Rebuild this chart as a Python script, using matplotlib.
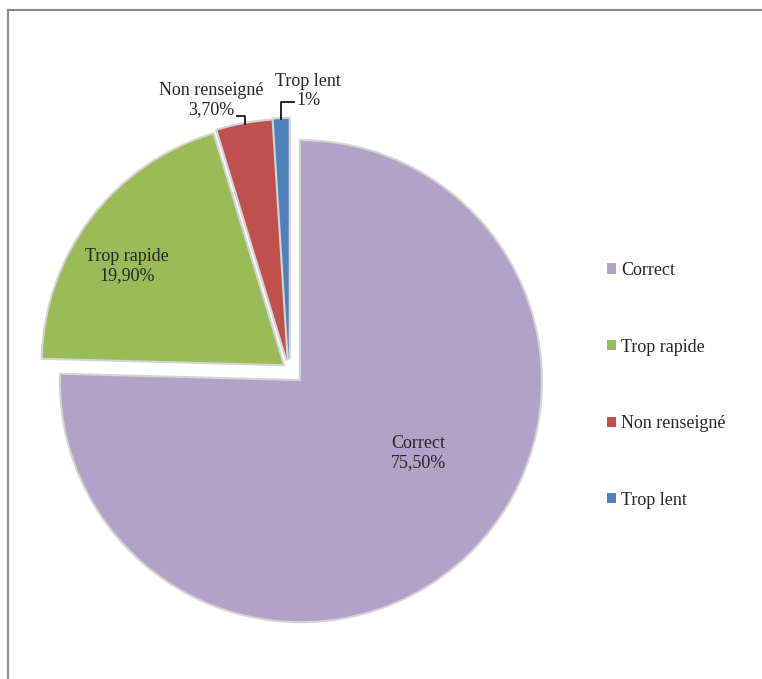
import numpy as np
import matplotlib
matplotlib.use("Agg")
import matplotlib.pyplot as plt
import matplotlib.patheffects as pe
from matplotlib.patches import Patch
from matplotlib.lines import Line2D

# données
categories = ['Correct', 'Trop rapide', 'Non renseigné', 'Trop lent']
values = [75.5, 19.9, 3.7, 1.0]
value_labels = ['75,50%', '19,90%', '3,70%', '1%']
colors = ['#B3A2C7', '#9BBB59', '#C0504D', '#4F81BD']
explode = [17, 8, 9, 10]  # décalage en pixels (unités des axes)

plt.rcParams['font.family'] = ['Liberation Serif', 'DejaVu Serif']
TXT = '#262626'

W, H = 762, 679
fig = plt.figure(figsize=(W / 100, H / 100), dpi=100)
ax = fig.add_axes([0, 0, 1, 1])

R = 240
wedges, _ = ax.pie(values, colors=colors, explode=explode, startangle=90,
                   counterclock=False, center=(289, H - 369), radius=R,
                   wedgeprops=dict(edgecolor='none'))
for w in wedges:
    w.set_path_effects([pe.withStroke(linewidth=3, foreground='#d4d4d4')])

# axes in pixel units (y up)
ax.set_xlim(0, W)
ax.set_ylim(0, H)
ax.set_aspect('equal')
ax.axis('off')

# étiquettes internes
ax.text(418, H - 453, f'{categories[0]}\n{value_labels[0]}', ha='center', va='center',
        fontsize=13, color=TXT, linespacing=1.1)
ax.text(127, H - 266, f'{categories[1]}\n{value_labels[1]}', ha='center', va='center',
        fontsize=13, color=TXT, linespacing=1.1)


def arc_mid(w):
    mid = np.deg2rad((w.theta1 + w.theta2) / 2)
    cx, cy = w.center
    return cx + w.r * np.cos(mid), cy + w.r * np.sin(mid)


# étiquettes externes avec lignes de rappel
ax.text(211, H - 100, f'{categories[2]}\n{value_labels[2]}', ha='center', va='center',
        fontsize=13, color=TXT, linespacing=1.1)
px, py = arc_mid(wedges[2])
ax.plot([px, px, 237], [py, H - 116, H - 116], color='black', lw=1.2)

ax.text(308, H - 91, f'{categories[3]}\n{value_labels[3]}', ha='center', va='center',
        fontsize=13, color=TXT, linespacing=1.1)
px, py = arc_mid(wedges[3])
ax.plot([px, px, 294], [py, H - 102, H - 102], color='black', lw=1.2)

# légende
handles = [Patch(facecolor=c) for c in colors]
leg = ax.legend(handles, categories, loc='upper left',
                bbox_to_anchor=(607 / W, 1 - 262 / H), frameon=False, fontsize=13,
                labelspacing=3.3, handlelength=0.5, handleheight=0.5,
                handletextpad=0.3, borderpad=0, borderaxespad=0)
for t in leg.get_texts():
    t.set_color(TXT)

# cadre
fig.add_artist(Line2D([8 / W, 1], [1 - 10 / H, 1 - 10 / H], transform=fig.transFigure,
                      color='#8a8a8a', lw=1.5))
fig.add_artist(Line2D([8 / W, 8 / W], [0, 1 - 10 / H], transform=fig.transFigure,
                      color='#8a8a8a', lw=1.5))

fig.savefig('out.png', dpi=100)
